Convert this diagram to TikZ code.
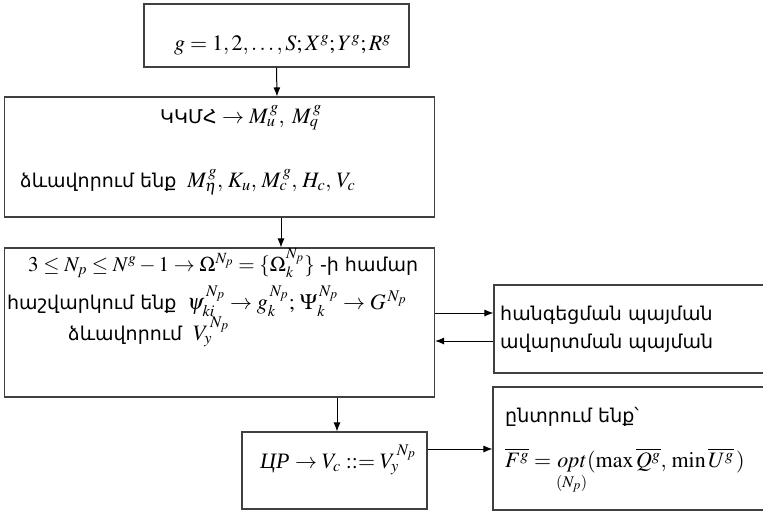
\documentclass[tikz,border=0pt]{standalone}
\usepackage{mathptmx}
\usepackage[no-math]{fontspec}
\setmainfont{Liberation Serif}
\newfontfamily\armfont{DejaVu Sans}
\usetikzlibrary{arrows.meta,positioning}

\begin{document}
\begin{tikzpicture}[
  x=1pt, y=-1pt,
  blk/.style={draw=black!75, line width=1.1pt, inner sep=0pt},
  txt/.style={anchor=base west, inner sep=0pt, font=\fontsize{22}{26}\selectfont},
  arm/.style={anchor=base west, inner sep=0pt, font=\armfont\fontsize{19}{22}\selectfont},
  edge/.style={-{Latex[length=9pt,width=7pt]}, line width=1pt}
]
\newcommand{\arm}[1]{{\armfont\fontsize{19}{22}\selectfont #1}}
\useasboundingbox (0,0) rectangle (763,515);
% blocks
\node[blk, minimum width=265pt, minimum height=63pt] (init) at (276.5,35.5) {};
\node[blk, minimum width=430pt, minimum height=120pt] (form) at (219.5,157) {};
\node[blk, minimum width=430pt, minimum height=149pt] (calc) at (219.5,322.5) {};
\node[blk, minimum width=274pt, minimum height=88pt] (cond) at (631,329) {};
\node[blk, minimum width=185pt, minimum height=77pt] (res) at (334.5,470.5) {};
\node[blk, minimum width=275pt, minimum height=123pt] (sel) at (630.5,448.5) {};
% texts
\node[txt] (initT) at (174,50) {$g=1,2,\ldots,S;X^g;Y^g;R^g$};
\node[txt] (formA) at (160,123) {\arm{ԿԿՄՀ} $\rightarrow M_u^{\,g},\;M_q^{\,g}$};
\node[txt] (formB) at (20,187) {\arm{ձևավորում ենք} \ $M_\eta^{\,g},\,K_u,\,M_c^{\,g},\,H_c,\,V_c$};
\node[txt, font=\fontsize{21}{25}\selectfont] (calcA) at (28,271) {$3\le N_p\le N^g-1\rightarrow\Omega^{N_p}=\{\Omega_k^{N_p}\}$ \arm{-ի համար}};
\node[txt] (calcB) at (7,309) {\arm{հաշվարկում ենք} \ $\psi_{ki}^{\,N_p}\rightarrow g_k^{\,N_p};\,\Psi_k^{\,N_p}\rightarrow G^{\,N_p}$};
\node[txt] (calcC) at (68,340) {\arm{ձևավորում} \ $V_y^{\,N_p}$};
\node[arm] (condA) at (500,320) {հանգեցման պայման};
\node[arm] (condB) at (500,348) {ավարտման պայման};
\node[txt] (resT) at (260,468) {\textit{ЦР} $\rightarrow V_c::=V_y^{\,N_p}$};
\node[arm] (selA) at (505,422) {ընտրում ենք՝};
\node[txt] (selB) at (505,467) {$\overline{F^g}=\mathop{\mathit{opt}}\limits_{(N_p)}(\max\overline{Q^g},\,\min\overline{U^g}\,)$};
% arrows
\draw[edge] (init.south) -- ([xshift=57.5pt]form.north);
\draw[edge] ([xshift=61.5pt]form.south) -- ([xshift=61.5pt]calc.north);
\draw[edge] ([yshift=9.5pt]calc.east) -- ([yshift=16pt]cond.west);
\draw[edge] ([yshift=-12pt]cond.west) -- ([yshift=-18.5pt]calc.east);
\draw[edge] ([xshift=117.5pt]calc.south) -- ([xshift=2.5pt]res.north);
\draw[edge] ([yshift=21.5pt]res.east) -- ([yshift=-0.5pt]sel.west);
\end{tikzpicture}
\end{document}
